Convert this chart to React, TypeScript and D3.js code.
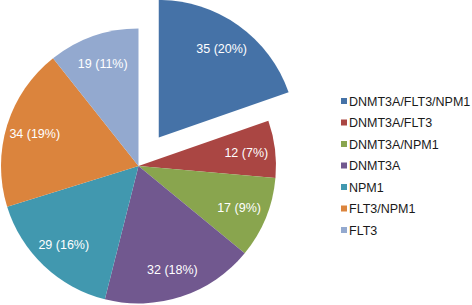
import React from "react";
import * as d3 from "d3";

const categories = ["DNMT3A/FLT3/NPM1", "DNMT3A/FLT3", "DNMT3A/NPM1", "DNMT3A", "NPM1", "FLT3/NPM1", "FLT3"];
const values = [35, 12, 17, 32, 29, 34, 19];
const labels = ["35 (20%)", "12 (7%)", "17 (9%)", "32 (18%)", "29 (16%)", "34 (19%)", "19 (11%)"];
const colors = ["#4572A7", "#AA4643", "#89A54E", "#71588F", "#4198AF", "#DB843D", "#93A9CF"];
const explodedIndex = 0;

export default function App() {
  const W = 472, H = 305;
  const cx = 138.5, cy = 166, r = 137.5, explode = 35;
  const pie = d3.pie<number>().sort(null).startAngle(0).endAngle(2 * Math.PI);
  const arcs = pie(values);
  const arc = d3.arc<d3.PieArcDatum<number>>().innerRadius(0).outerRadius(r);
  const labelArc = d3.arc<d3.PieArcDatum<number>>().innerRadius(r * 0.79).outerRadius(r * 0.79);
  const legendY = d3.scaleLinear().domain([0, categories.length - 1]).range([101, 230]);

  return (
    <svg width={W} height={H} style={{ position: "absolute", left: 0, top: 0, background: "#fff" }}
      fontFamily="'Liberation Sans', Arial, sans-serif">
      <g transform={`translate(${cx},${cy})`}>
        {arcs.map((a, i) => {
          const mid = (a.startAngle + a.endAngle) / 2;
          const off = i === explodedIndex ? explode : 0;
          const dx = Math.sin(mid) * off, dy = -Math.cos(mid) * off;
          const [lx, ly] = labelArc.centroid(a);
          return (
            <g key={i} transform={`translate(${dx},${dy})`}>
              <path d={arc(a) || ""} fill={colors[i]} />
              <text x={lx} y={ly} dy="0.35em" textAnchor="middle" fill="#fff" fontSize={12.5}>{labels[i]}</text>
            </g>
          );
        })}
      </g>
      <g>
        {categories.map((c, i) => (
          <g key={c} transform={`translate(341,${legendY(i)})`}>
            <rect x={0} y={-3} width={6} height={6} fill={colors[i]} />
            <text x={8} y={0} dy="0.36em" fontSize={12.5} fill="#1a1a1a">{c}</text>
          </g>
        ))}
      </g>
    </svg>
  );
}
